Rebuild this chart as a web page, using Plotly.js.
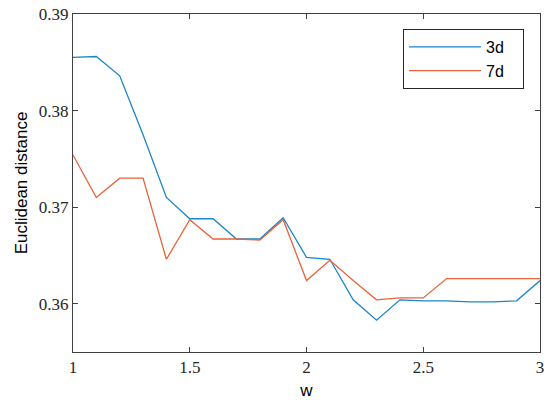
<!DOCTYPE html>
<html>
<head>
<meta charset="utf-8">
<script src="https://cdn.plot.ly/plotly-3.0.1.min.js"></script>
<style>html,body{margin:0;padding:0;background:#fff;}#chart{width:550px;height:401px;}</style>
</head>
<body>
<div id="chart"></div>
<script>
var wValues = [1.0, 1.1, 1.2, 1.3, 1.4, 1.5, 1.6, 1.7, 1.8, 1.9, 2.0, 2.1, 2.2, 2.3, 2.4, 2.5, 2.6, 2.7, 2.8, 2.9, 3.0];
var dist3d = [0.3855, 0.3856, 0.3836, 0.3775, 0.3710, 0.3688, 0.3688, 0.3667, 0.3667, 0.3689, 0.3648, 0.3646, 0.3604, 0.3583, 0.3604, 0.3603, 0.3603, 0.3602, 0.3602, 0.3603, 0.3624];
var dist7d = [0.3754, 0.3710, 0.3730, 0.3730, 0.3646, 0.3687, 0.3667, 0.3667, 0.3666, 0.3687, 0.3624, 0.3645, 0.3624, 0.3604, 0.3606, 0.3606, 0.3626, 0.3626, 0.3626, 0.3626, 0.3626];
var seriesNames = ['3d', '7d'];
var xTickVals = [1, 1.5, 2, 2.5, 3];
var xTickText = ['1', '1.5', '2', '2.5', '3'];
var yTickVals = [0.36, 0.37, 0.38, 0.39];
var yTickText = ['0.36', '0.37', '0.38', '0.39'];

var axisColor = '#404040';
var tickFont = {family: 'Times New Roman, Liberation Serif, DejaVu Serif, serif', size: 17, color: '#262626'};
var titleFont = {family: 'Arial, Liberation Sans, sans-serif', size: 17, color: '#000'};

var traces = [
  {x: wValues, y: dist3d, name: seriesNames[0] + '\u00a0\u00a0\u00a0', type: 'scatter', mode: 'lines', line: {color: '#1a86c8', width: 1.3}},
  {x: wValues, y: dist7d, name: seriesNames[1] + '\u00a0\u00a0\u00a0', type: 'scatter', mode: 'lines', line: {color: '#e8633a', width: 1.3}}
];

var layout = {
  width: 550, height: 401,
  margin: {l: 73, r: 10, t: 14, b: 49, pad: 0},
  paper_bgcolor: '#fff', plot_bgcolor: '#fff',
  font: {family: 'Times New Roman, Liberation Serif, serif', size: 17, color: '#262626'},
  showlegend: true,
  legend: {
    x: 0.7066, y: 0.9556, xanchor: 'left', yanchor: 'top',
    bgcolor: '#fff', bordercolor: '#262626', borderwidth: 1,
    font: {family: 'Arial, Liberation Sans, sans-serif', size: 16, color: '#000'},
    itemwidth: 72, tracegroupgap: 0
  },
  xaxis: {
    range: [1, 3], tickmode: 'array', tickvals: xTickVals, ticktext: xTickText,
    ticks: 'inside', ticklen: 5, tickcolor: axisColor, tickwidth: 1,
    showline: true, linecolor: axisColor, linewidth: 1, mirror: 'ticks',
    showgrid: false, zeroline: false, tickfont: tickFont, automargin: false,
    title: {text: 'w', font: titleFont, standoff: 7}
  },
  yaxis: {
    range: [0.355, 0.39], tickmode: 'array', tickvals: yTickVals, ticktext: yTickText,
    ticks: 'inside', ticklen: 5, tickcolor: axisColor, tickwidth: 1,
    showline: true, linecolor: axisColor, linewidth: 1, mirror: 'ticks',
    showgrid: false, zeroline: false, tickfont: tickFont, automargin: false,
    title: {text: 'Euclidean distance', font: titleFont, standoff: 6}
  }
};

Plotly.newPlot('chart', traces, layout, {displayModeBar: false, staticPlot: true});
</script>
</body>
</html>
